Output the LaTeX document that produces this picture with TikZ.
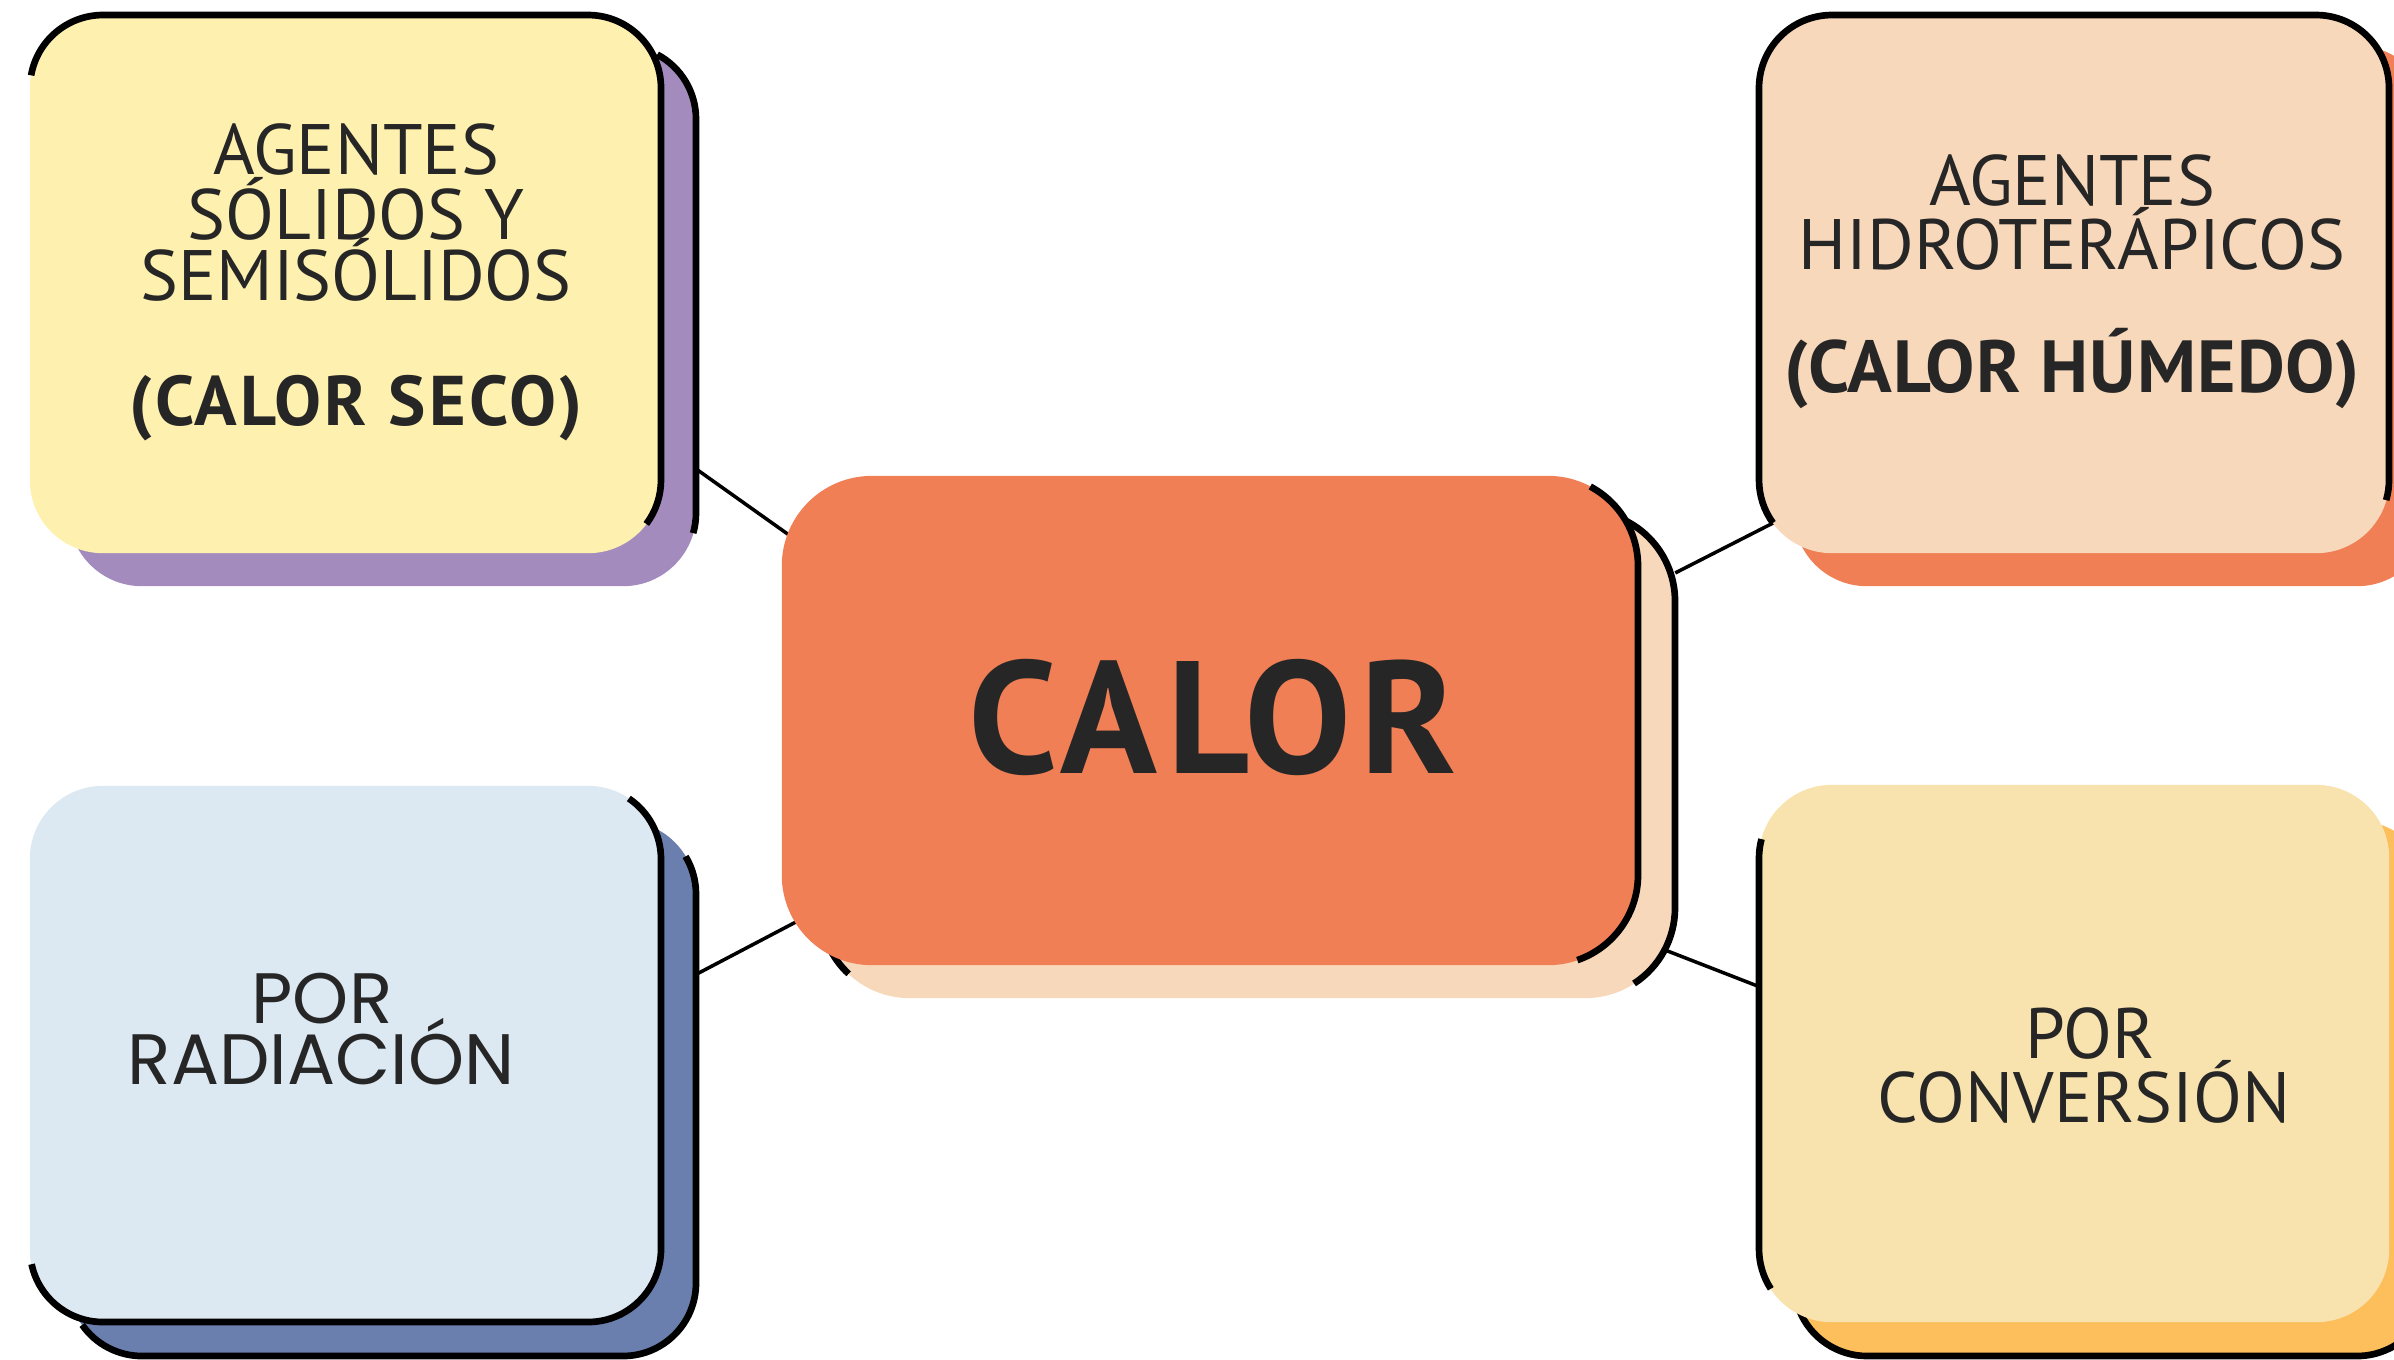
\documentclass[tikz,border=0pt]{standalone}
\usepackage{fontspec}
\setmainfont{PT Sans}
\newfontfamily\geofont{Poppins}
\usetikzlibrary{backgrounds}
\definecolor{ink}{HTML}{262626}
\definecolor{ylw}{HTML}{FEF0AE}
\definecolor{prp}{HTML}{A38CBD}
\definecolor{org}{HTML}{F07F56}
\definecolor{pch}{HTML}{F8D8BA}
\definecolor{lbl}{HTML}{DCE8F2}
\definecolor{blu}{HTML}{6A7FAD}
\definecolor{ylw2}{HTML}{F8E3AE}
\definecolor{gld}{HTML}{FDBF5C}
\begin{document}
\begin{tikzpicture}[x=0.01cm,y=-0.01cm,
  box/.style={draw=none,inner sep=0,outer sep=0,rounded corners=0.73cm},
  bigbox/.style={draw=none,inner sep=0,outer sep=0,rounded corners=0.9cm},
  txt/.style={anchor=base,inner sep=0,text=ink,font=\fontsize{20.3}{24}\selectfont},
  btxt/.style={anchor=base,inner sep=0,text=ink,font=\fontsize{20}{24}\selectfont\bfseries\addfontfeatures{LetterSpace=5}},
  gtxt/.style={anchor=base,inner sep=0,text=ink,font=\geofont\fontsize{20.3}{24}\selectfont},
  outl/.style={line width=1.9pt,line cap=butt},
  conn/.style={line width=1pt}]
\useasboundingbox (0,0) rectangle (2394,1359);
\clip (0,0) rectangle (2394,1359);

% shadow nodes
\node[box,fill=prp,minimum width=6.27cm,minimum height=5.40cm] (ysh) at (382.5,316) {};
\node[bigbox,fill=pch,minimum width=8.55cm,minimum height=4.87cm] (csh) at (1247.5,754.5) {};
\node[box,fill=org,minimum width=6.36cm,minimum height=5.40cm] (psh) at (2112,316) {};
\node[box,fill=blu,minimum width=6.27cm,minimum height=5.35cm] (bsh) at (382.5,1088.5) {};
\node[box,fill=gld,minimum width=6.36cm,minimum height=5.35cm] (gsh) at (2112,1088.5) {};

% shadow outlines
\draw[outl] (623,119) ++(298:73) arc[start angle=298,end angle=360,radius=73] -- (696,513) arc[start angle=0,end angle=16,radius=73];
\draw[outl] (1585,601) ++(295:90) arc[start angle=295,end angle=360,radius=90] -- (1675,908) arc[start angle=0,end angle=57,radius=90];
\draw[outl] (910,908) ++(133:90) arc[start angle=133,end angle=155,radius=90];
\draw[outl] (623,894) ++(329:73) arc[start angle=329,end angle=360,radius=73] -- (696,1283) arc[start angle=0,end angle=90,radius=73] -- (142,1356) arc[start angle=90,end angle=145,radius=73];
\draw[outl] (1867,1283) ++(158:73) arc[start angle=158,end angle=90,radius=73] -- (2357,1356) arc[start angle=90,end angle=40,radius=73];

% main boxes
\node[box,fill=ylw,minimum width=6.31cm,minimum height=5.38cm] (ybox) at (345.5,284) {};
\node[bigbox,fill=org,minimum width=8.56cm,minimum height=4.89cm] (calor) at (1210,720.5) {};
\node[box,fill=pch,minimum width=6.30cm,minimum height=5.38cm] (pbox) at (2074,284) {};
\node[box,fill=lbl,minimum width=6.31cm,minimum height=5.36cm] (bbox) at (345.5,1054) {};
\node[box,fill=ylw2,minimum width=6.30cm,minimum height=5.37cm] (ybox2) at (2074,1053.5) {};

% main box outlines
\draw[outl] (103,88) ++(190:73) arc[start angle=190,end angle=270,radius=73] -- (588,15) arc[start angle=270,end angle=360,radius=73] -- (661,480) arc[start angle=0,end angle=37,radius=73];
\draw[outl] (1548,566) ++(298:90) arc[start angle=298,end angle=360,radius=90] -- (1638,875) arc[start angle=0,end angle=71,radius=90];
\draw[outl] (1832,480) ++(144:73) arc[start angle=144,end angle=180,radius=73] -- (1759,88) arc[start angle=180,end angle=270,radius=73] -- (2316,15) arc[start angle=270,end angle=360,radius=73] -- (2389,480) arc[start angle=0,end angle=16,radius=73];
\draw[outl] (588,859) ++(304:73) arc[start angle=304,end angle=360,radius=73] -- (661,1249) arc[start angle=0,end angle=90,radius=73] -- (103,1322) arc[start angle=90,end angle=168,radius=73];
\draw[outl] (1832,858) ++(195:73) arc[start angle=195,end angle=180,radius=73] -- (1759,1249) arc[start angle=180,end angle=147,radius=73];

% connectors (under the boxes, reaching in beneath them)
\begin{pgfonlayer}{background}
\draw[conn,shorten >=-0.3cm] (ysh.-26) -- (calor.156);
\draw[conn,shorten >=-0.3cm] (bsh.20) -- (calor.206);
\draw[conn,shorten >=-0.3cm] (csh.23) -- (pbox.218);
\draw[conn,shorten <=-0.3cm] (csh.-25) -- (ybox2.168);
\end{pgfonlayer}

% texts
\node[txt] (t1a) at (356,174) {AGENTES};
\node[txt] (t1b) at (356,239) {SÓLIDOS Y};
\node[txt] (t1c) at (356,300) {SEMISÓLIDOS};
\node[btxt] (t1d) at (356,425) {(CALOR SECO)};

\node[txt] (t2a) at (2072,205) {AGENTES};
\node[txt] (t2b) at (2072,269) {HIDROTERÁPICOS};
\node[btxt,font=\fontsize{21}{24}\selectfont\bfseries\addfontfeatures{LetterSpace=1.5}] (t2c) at (2072,392) {(CALOR HÚMEDO)};

\node[anchor=base,inner sep=0,text=ink,font=\fontsize{45.5}{50}\selectfont\bfseries\addfontfeatures{LetterSpace=6}] (t0) at (1213,773) {CALOR};

\node[gtxt] (t3a) at (322,1023) {POR};
\node[gtxt] (t3b) at (321,1084) {RADIACIÓN};

\node[txt] (t4a) at (2090,1058) {POR};
\node[txt] (t4b) at (2084,1122) {CONVERSIÓN};
\end{tikzpicture}
\end{document}
